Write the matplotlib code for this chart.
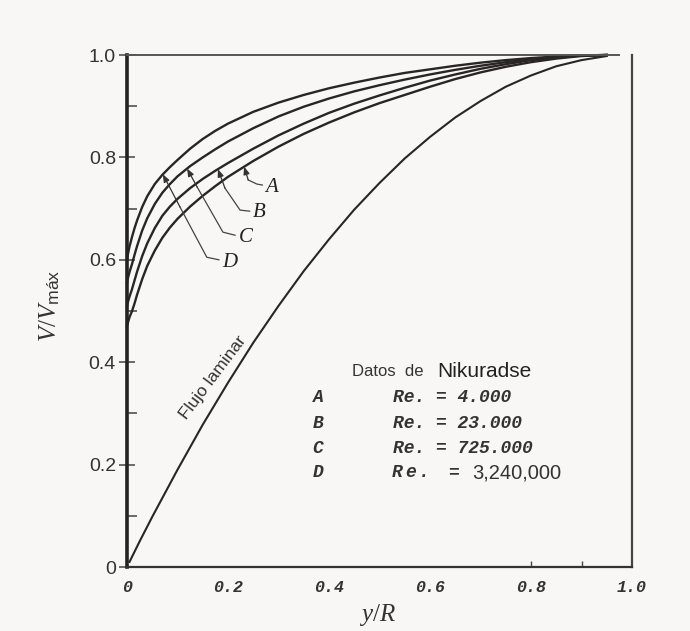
import numpy as np
import matplotlib
matplotlib.use("Agg")
import matplotlib.pyplot as plt
from matplotlib.ticker import FixedLocator

plt.rcParams['mathtext.fontset'] = 'custom'
plt.rcParams['mathtext.rm'] = 'Liberation Serif'
plt.rcParams['mathtext.it'] = 'Liberation Serif:italic'
plt.rcParams['mathtext.sf'] = 'Liberation Sans'

# Nikuradse velocity profiles (y/R vs V/Vmax)
eta = [0.0, 0.002, 0.005, 0.01, 0.015, 0.02, 0.03, 0.04, 0.055, 0.07, 0.085,
       0.1, 0.125, 0.15, 0.175, 0.2, 0.25, 0.3, 0.35, 0.4, 0.45, 0.5,
       0.55, 0.6, 0.65, 0.7, 0.75, 0.8, 0.85, 0.9, 0.95]
curve_A = [0.47, 0.478, 0.488, 0.50, 0.515, 0.532, 0.562, 0.588, 0.618, 0.643, 0.663,
           0.68, 0.704, 0.725, 0.744, 0.762, 0.793, 0.821, 0.846, 0.868, 0.888, 0.906,
           0.922, 0.938, 0.953, 0.966, 0.977, 0.986, 0.993, 0.998, 1.0]
curve_B = [0.51, 0.518, 0.528, 0.543, 0.56, 0.577, 0.607, 0.632, 0.662, 0.686, 0.704,
           0.719, 0.74, 0.758, 0.774, 0.789, 0.817, 0.843, 0.866, 0.887, 0.905, 0.921,
           0.936, 0.95, 0.962, 0.973, 0.982, 0.99, 0.995, 0.999, 1.0]
curve_C = [0.555, 0.565, 0.576, 0.592, 0.61, 0.627, 0.657, 0.681, 0.709, 0.731, 0.748,
           0.763, 0.783, 0.80, 0.816, 0.831, 0.857, 0.88, 0.899, 0.915, 0.929, 0.941,
           0.952, 0.962, 0.971, 0.979, 0.986, 0.992, 0.996, 0.999, 1.0]
curve_D = [0.60, 0.612, 0.626, 0.645, 0.662, 0.677, 0.703, 0.724, 0.748, 0.766, 0.781,
           0.795, 0.817, 0.836, 0.852, 0.866, 0.889, 0.907, 0.922, 0.935, 0.946, 0.956,
           0.965, 0.972, 0.979, 0.985, 0.99, 0.994, 0.997, 0.999, 1.0]

eta_lam = [0.005, 0.025, 0.05, 0.1, 0.15, 0.2, 0.25, 0.3, 0.35, 0.4, 0.45, 0.5,
           0.55, 0.6, 0.65, 0.7, 0.75, 0.8, 0.85, 0.9, 0.95]
laminar = [0.01, 0.05, 0.098, 0.19, 0.278, 0.36, 0.438, 0.51, 0.578, 0.64, 0.698, 0.75,
           0.798, 0.84, 0.878, 0.91, 0.938, 0.96, 0.978, 0.99, 0.998]

labels = ['A', 'B', 'C', 'D']
re_values = ['4.000', '23.000', '725.000', '3,240,000']
x_ticks = [0, 0.2, 0.4, 0.6, 0.8, 1.0]
x_ticklabels = ['0', '0.2', '0.4', '0.6', '0.8', '1.0']
y_ticks = [0, 0.2, 0.4, 0.6, 0.8, 1.0]
y_ticklabels = ['0', '0.2', '0.4', '0.6', '0.8', '1.0']

bg = '#f8f7f5'
ink = '#2a2525'

fig = plt.figure(figsize=(6.9, 6.31), dpi=100, facecolor=bg)
ax = fig.add_axes([127 / 690, 64 / 631, 505 / 690, 512 / 631], facecolor=bg)
ax.set_xlim(0, 1)
ax.set_ylim(0, 1)

curves = {'A': curve_A, 'B': curve_B, 'C': curve_C, 'D': curve_D}
for name in labels:
    ax.plot(eta, curves[name], color=ink, lw=1.7, clip_on=False, solid_joinstyle='round')
ax.plot(eta_lam, laminar, color=ink, lw=1.5, clip_on=False, solid_joinstyle='round')

# spines
ax.spines['left'].set_linewidth(2.6)
ax.spines['left'].set_color('#222')
ax.spines['bottom'].set_linewidth(1.6)
ax.spines['bottom'].set_color('#333')
ax.spines['top'].set_linewidth(1.4)
ax.spines['top'].set_color('#555')
ax.spines['top'].set_bounds(0, 0.975)
ax.spines['right'].set_linewidth(1.6)
ax.spines['right'].set_color('#444')

# y ticks
ax.yaxis.set_major_locator(FixedLocator(y_ticks))
ax.yaxis.set_minor_locator(FixedLocator([0.1, 0.3, 0.5, 0.7, 0.9]))
ax.set_yticklabels(y_ticklabels, fontfamily='Liberation Sans', fontsize=14, color='#333')
ax.tick_params(axis='y', which='major', direction='inout', length=12, width=1.1,
               color='#444', pad=2)
ax.tick_params(axis='y', which='minor', direction='in', length=7, width=1.1, color='#444')

# x ticks
ax.xaxis.set_major_locator(FixedLocator(x_ticks))
ax.xaxis.remove_overlapping_locs = False
ax.xaxis.set_minor_locator(FixedLocator([0.8, 0.9]))
ax.set_xticklabels(x_ticklabels, fontfamily='Liberation Mono', fontweight='bold',
                   fontstyle='italic', fontsize=12, color='#333')
ax.tick_params(axis='x', which='major', length=0, pad=9)
ax.tick_params(axis='x', which='minor', direction='in', length=4, width=1, color='#444')

ax.set_xlabel('$y/R$', fontsize=18, color='#333')
ax.xaxis.set_label_coords(0.497, -0.068)
ax.set_ylabel(r'$V/V_{\mathsf{máx}}$', fontsize=18, color='#333')
ax.yaxis.set_label_coords(-0.128, 0.51)

# curve labels with leader lines
leaders = {
    'A': [(0.232, 0.773), (0.240, 0.756), (0.257, 0.748), (0.268, 0.746)],
    'B': [(0.180, 0.768), (0.194, 0.740), (0.224, 0.697), (0.243, 0.695)],
    'C': [(0.119, 0.777), (0.139, 0.742), (0.190, 0.654), (0.214, 0.648)],
    'D': [(0.071, 0.760), (0.105, 0.703), (0.158, 0.605), (0.182, 0.600)],
}
label_pos = {'A': (0.287, 0.742), 'B': (0.262, 0.693), 'C': (0.236, 0.643), 'D': (0.203, 0.594)}
for name in labels:
    pts = leaders[name]
    tip_x = pts[0][0]
    tip = (tip_x, np.interp(tip_x, eta, curves[name]))
    xs = [p[0] for p in pts[1:]]
    ys = [p[1] for p in pts[1:]]
    ax.plot(xs, ys, color='#444', lw=0.9)
    ax.annotate('', xy=tip, xytext=pts[1],
                arrowprops=dict(arrowstyle='-|>,head_length=0.45,head_width=0.18',
                                color='#333', lw=0.9, shrinkA=0, shrinkB=0))
    ax.text(*label_pos[name], name, fontfamily='Liberation Serif', fontstyle='italic',
            fontsize=15, color='#222', ha='center', va='center')

# laminar label
ax.text(0.17, 0.37, 'Flujo laminar', rotation=53, rotation_mode='anchor',
        fontfamily='Liberation Sans', fontsize=12.5, color='#333', ha='center', va='center')

# Nikuradse data block
ax.text(0.446, 0.381, 'Datos  de', fontfamily='Liberation Sans', fontsize=12,
        color='#333', va='center')
ax.text(0.614, 0.381, 'Nikuradse', fontfamily='Liberation Sans', fontsize=15,
        color='#222', va='center')
row_y = [0.332, 0.281, 0.232, 0.184]
mono = dict(fontfamily='Liberation Mono', fontweight='bold', fontstyle='italic',
            fontsize=13, color='#333', va='center')
for name, val, yy in zip(labels, re_values, row_y):
    ax.text(0.378, yy, name, ha='center', **mono)
    if name != 'D':
        ax.text(0.527, yy, 'Re. = ' + val, ha='left', **mono)
    else:
        for ch, xx in zip('Re.', [0.525, 0.551, 0.578]):
            ax.text(xx, yy, ch, ha='left', **mono)
        ax.text(0.636, yy, '=', ha='left', **mono)
        ax.text(0.683, yy, val, ha='left', fontfamily='Liberation Sans', fontsize=14.5,
                color='#333', va='center')

fig.savefig('out.png', dpi=100, facecolor=bg)
